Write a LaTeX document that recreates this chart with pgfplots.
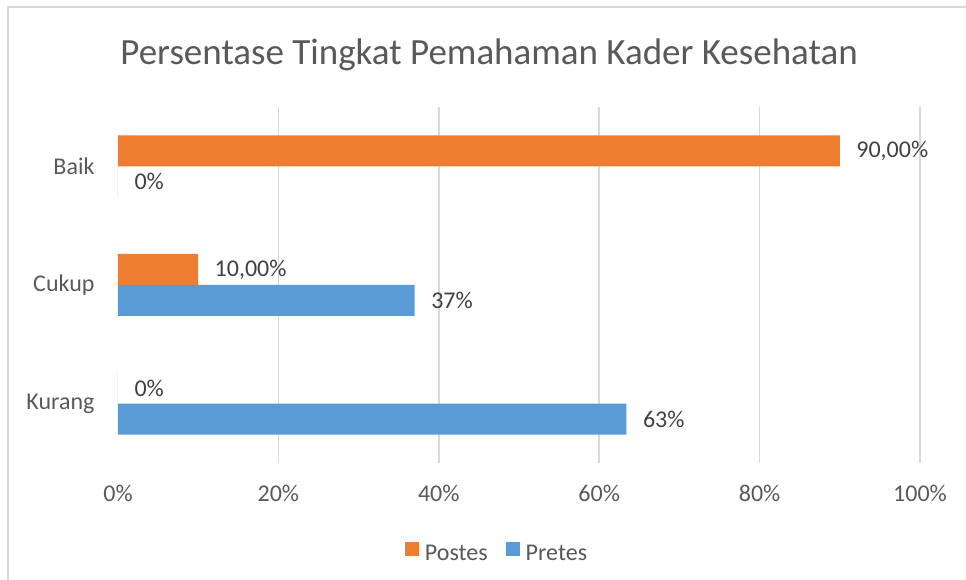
\documentclass[border=0pt]{standalone}
\usepackage{pgfplots}
\pgfplotsset{compat=1.18}
\usepackage{fontspec}
\setmainfont{Carlito}
\definecolor{cOrange}{HTML}{ED7D31}
\definecolor{cBlue}{HTML}{5B9BD5}
\definecolor{cGrid}{HTML}{D9D9D9}
\definecolor{cText}{HTML}{595959}
\definecolor{cLab}{HTML}{404040}
\begin{document}
\begin{tikzpicture}[x=1pt,y=1pt]
\useasboundingbox (0,0) rectangle (966,580);
\draw[cGrid,line width=1.5pt] (8,0) -- (8,573) -- (966,573);
\node[anchor=base,text=cText,font=\fontsize{37}{44}\selectfont] at (489,515) {Persentase Tingkat Pemahaman Kader Kesehatan};
\begin{axis}[
  at={(118pt,117pt)}, anchor=south west,
  scale only axis, width=802pt, height=356pt,
  xbar, bar width=31pt,
  xmin=0, xmax=100, ymin=-0.5, ymax=2.5,
  xtick={0,20,40,60,80,100},
  xticklabels={0\%,20\%,40\%,60\%,80\%,100\%},
  minor xtick={20,40,60,80,100},
  ytick={0,1,2}, yticklabels={Kurang,Cukup,Baik},
  axis line style={draw=none},
  major tick length=0pt, minor tick length=0pt,
  xminorgrids, minor grid style={cGrid,line width=1.5pt},
  tick label style={text=cText,font=\fontsize{24}{28}\selectfont},
  xticklabel style={yshift=-19pt},
  yticklabel style={xshift=-20pt},
  point meta=explicit symbolic,
  nodes near coords,
  nodes near coords style={anchor=west,xshift=13pt,text=cLab,font=\fontsize{24}{28}\selectfont},
  legend style={draw=none, at={(0.4726,-0.253)}, anchor=center,
    legend columns=2, font=\fontsize{24}{28}\selectfont, text=cText,
    /tikz/every odd column/.append style={column sep=4pt},
    /tikz/every even column/.append style={column sep=16pt}},
  legend image code/.code={\fill[#1,draw=none] (0pt,-2pt) rectangle (14pt,12pt);},
]
\addplot[fill=cOrange,draw=none,bar shift=15.5pt] coordinates {(0,0) [0\%] (10,1) [10,00\%] (90,2) [90,00\%]};
\addlegendentry{Postes}
\addplot[fill=cBlue,draw=none,bar shift=-15.5pt] coordinates {(63.4,0) [63\%] (37,1) [37\%] (0,2) [0\%]};
\addlegendentry{Pretes}
\end{axis}
\end{tikzpicture}
\end{document}
